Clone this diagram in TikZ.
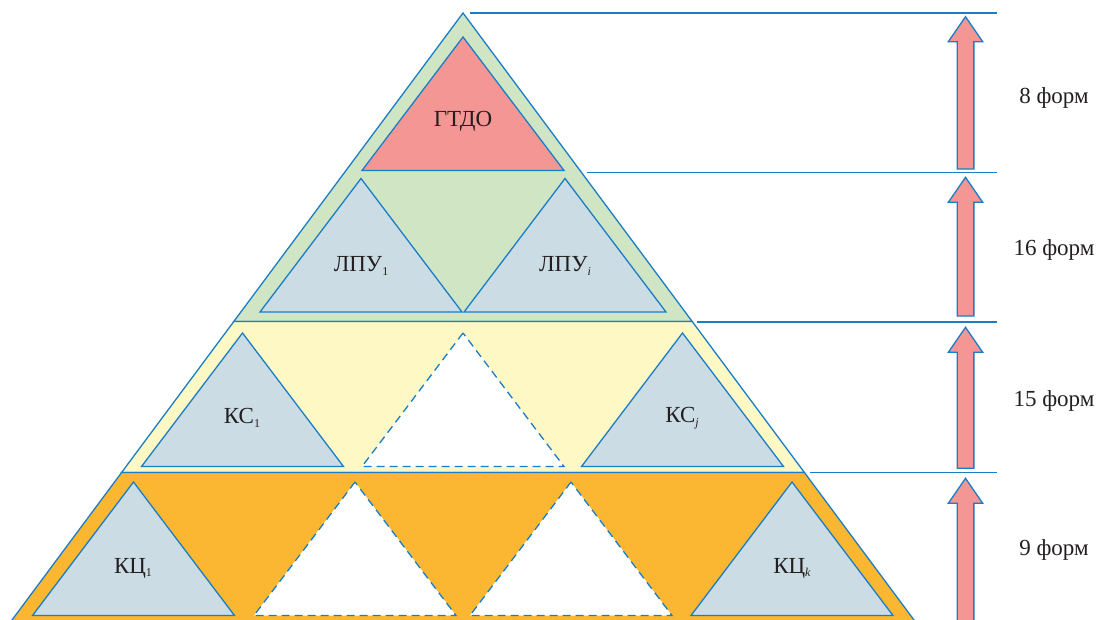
\documentclass[tikz,border=0pt]{standalone}
\usepackage{fontspec}
\setmainfont{Liberation Serif}
\definecolor{lineblue}{RGB}{25,125,200}
\definecolor{pinkf}{RGB}{243,150,148}
\definecolor{greenf}{RGB}{207,229,196}
\definecolor{yellowf}{RGB}{254,249,196}
\definecolor{orangef}{RGB}{251,183,50}
\definecolor{greyf}{RGB}{204,220,228}
\definecolor{txt}{RGB}{35,31,32}
\newcommand\mytri[3]{\filldraw[#1] (#2,#3) -- ++(-101,133.5) -- ++(202,0) -- cycle;}
\newcommand\uparr[3]{\filldraw[arr] (#1,#2) -- (#1+17.2,#2+25) -- (#1+8.35,#2+25) -- (#1+8.35,#3) -- (#1-8.35,#3) -- (#1-8.35,#2+25) -- (#1-17.2,#2+25) -- cycle;}
\newcommand\sbs[1]{\raisebox{-0.35ex}{\fontsize{12}{12}\selectfont #1}}
\begin{document}
\begin{tikzpicture}[x=1pt,y=-1pt,line join=miter,
  edge/.style={draw=lineblue,line width=1.3pt},
  solidtri/.style={edge,fill=greyf},
  holetri/.style={edge,fill=white,dash pattern=on 8pt off 5pt},
  arr/.style={edge,fill=pinkf},
  lvl/.style={draw=lineblue,line width=1.3pt},
  lbl/.style={text=txt,font=\fontsize{23}{27}\selectfont,inner sep=0pt},
  cnt/.style={text=txt,font=\fontsize{23}{27}\selectfont,inner sep=0pt}]
\useasboundingbox (0,0) rectangle (1100,619);
\clip (0,0) rectangle (1100,619);
% bands
\filldraw[edge,fill=greenf] (463,13) -- (233.8,321.5) -- (692.2,321.5) -- cycle;
\filldraw[edge,fill=yellowf] (233.8,321.5) -- (692.2,321.5) -- (804.4,472.5) -- (121.6,472.5) -- cycle;
\filldraw[edge,fill=orangef] (121.6,472.5) -- (804.4,472.5) -- (917.7,625) -- (8.3,625) -- cycle;
% inner triangles
\mytri{edge,fill=pinkf}{463}{37}
\mytri{solidtri}{361}{178.5}
\mytri{solidtri}{565}{178.5}
\mytri{solidtri}{242.5}{333}
\mytri{holetri}{463}{333}
\mytri{solidtri}{682.5}{333}
\mytri{solidtri}{133.5}{482}
\mytri{holetri}{355}{482}
\mytri{holetri}{571}{482}
\mytri{solidtri}{792}{482}
% level lines
\coordinate (l1a) at (470,13);  \coordinate (l1b) at (997,13);
\coordinate (l2a) at (587,172.5); \coordinate (l2b) at (997,172.5);
\coordinate (l3a) at (697,322); \coordinate (l3b) at (997,322);
\coordinate (l4a) at (810,472.5); \coordinate (l4b) at (997,472.5);
\draw[lvl] (l1a) -- (l1b);
\draw[lvl] (l2a) -- (l2b);
\draw[lvl] (l3a) -- (l3b);
\draw[lvl] (l4a) -- (l4b);
% arrows
\uparr{965.5}{16.7}{169}
\uparr{965.5}{177.3}{316}
\uparr{965.5}{327.3}{468.3}
\uparr{965.5}{478.3}{630}
% labels
\node[lbl] (gtdo) at (463,121) {ГТДО};
\node[lbl] (lpu1) at (361,266) {ЛПУ\sbs{1}};
\node[lbl] (lpui) at (565,266) {ЛПУ\sbs{\textit{i}}};
\node[lbl] (ks1) at (242,418) {КС\sbs{1}};
\node[lbl] (ksj) at (682,418) {КС\sbs{\textit{j}}};
\node[lbl] (kc1) at (133,568) {КЦ\sbs{1}};
\node[lbl] (kck) at (792,568) {КЦ\sbs{\textit{k}}};
\node[cnt] (f8) at (1054,98) {8 форм};
\node[cnt] (f16) at (1054,250) {16 форм};
\node[cnt] (f15) at (1054,401) {15 форм};
\node[cnt] (f9) at (1054,550) {9 форм};
\end{tikzpicture}
\end{document}
